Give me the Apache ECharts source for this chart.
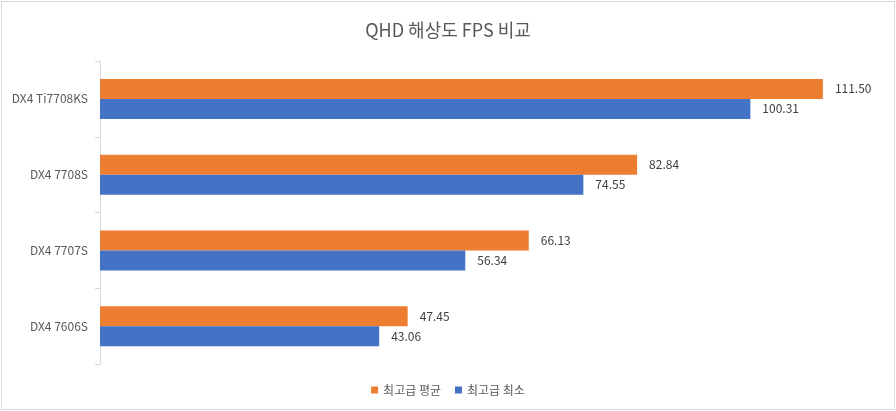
<!DOCTYPE html>
<html>
<head>
<meta charset="utf-8">
<script src="https://cdn.jsdelivr.net/npm/echarts@6/dist/echarts.min.js"></script>
<style>
  html, body { margin: 0; padding: 0; background: #fff; }
  #chart { position: absolute; left: 1px; top: 1px; width: 892px; height: 407px; border: 1px solid #d9d9d9; }
</style>
</head>
<body>
<div id="chart"></div>
<script>
const categories = ["DX4 Ti7708KS", "DX4 7708S", "DX4 7707S", "DX4 7606S"];
const avgValues = [111.50, 82.84, 66.13, 47.45];
const minValues = [100.31, 74.55, 56.34, 43.06];
const seriesNames = ["최고급 평균", "최고급 최소"];

const font = "'Noto Sans CJK KR', 'Noto Sans', sans-serif";

const chart = echarts.init(document.getElementById("chart"), null, { renderer: "canvas" });

const labelStyle = {
  show: true,
  position: "right",
  distance: 12,
  color: "#404040",
  fontSize: 12,
  fontFamily: font,
  formatter: (p) => p.value.toFixed(2)
};

const option = {
  animation: false,
  title: {
    text: "QHD 해상도 FPS 비교",
    left: "center",
    top: 14,
    textStyle: { color: "#595959", fontSize: 18, fontWeight: "normal", fontFamily: font }
  },
  legend: {
    data: seriesNames,
    bottom: 8,
    left: "center",
    icon: "rect",
    itemWidth: 7,
    itemHeight: 7,
    itemGap: 14,
    textStyle: { color: "#595959", fontSize: 12, fontFamily: font }
  },
  grid: { left: 98, right: 16, top: 59, bottom: 45 },
  xAxis: {
    type: "value",
    min: 0,
    max: 120,
    axisLine: { show: false },
    axisTick: { show: false },
    axisLabel: { show: false },
    splitLine: { show: false }
  },
  yAxis: {
    type: "category",
    inverse: true,
    data: categories,
    axisLine: { show: true, lineStyle: { color: "#d9d9d9" } },
    axisTick: { show: true, length: 5, lineStyle: { color: "#d9d9d9" } },
    axisLabel: { color: "#595959", fontSize: 12, fontFamily: font, margin: 12 }
  },
  series: [
    {
      name: seriesNames[0],
      type: "bar",
      data: avgValues,
      barWidth: 20,
      barGap: "0%",
      itemStyle: { color: "#ED7D31" },
      label: labelStyle
    },
    {
      name: seriesNames[1],
      type: "bar",
      data: minValues,
      barWidth: 20,
      barGap: "0%",
      itemStyle: { color: "#4472C4" },
      label: labelStyle
    }
  ]
};

chart.setOption(option);
window.addEventListener("resize", chart.resize);
</script>
</body>
</html>
